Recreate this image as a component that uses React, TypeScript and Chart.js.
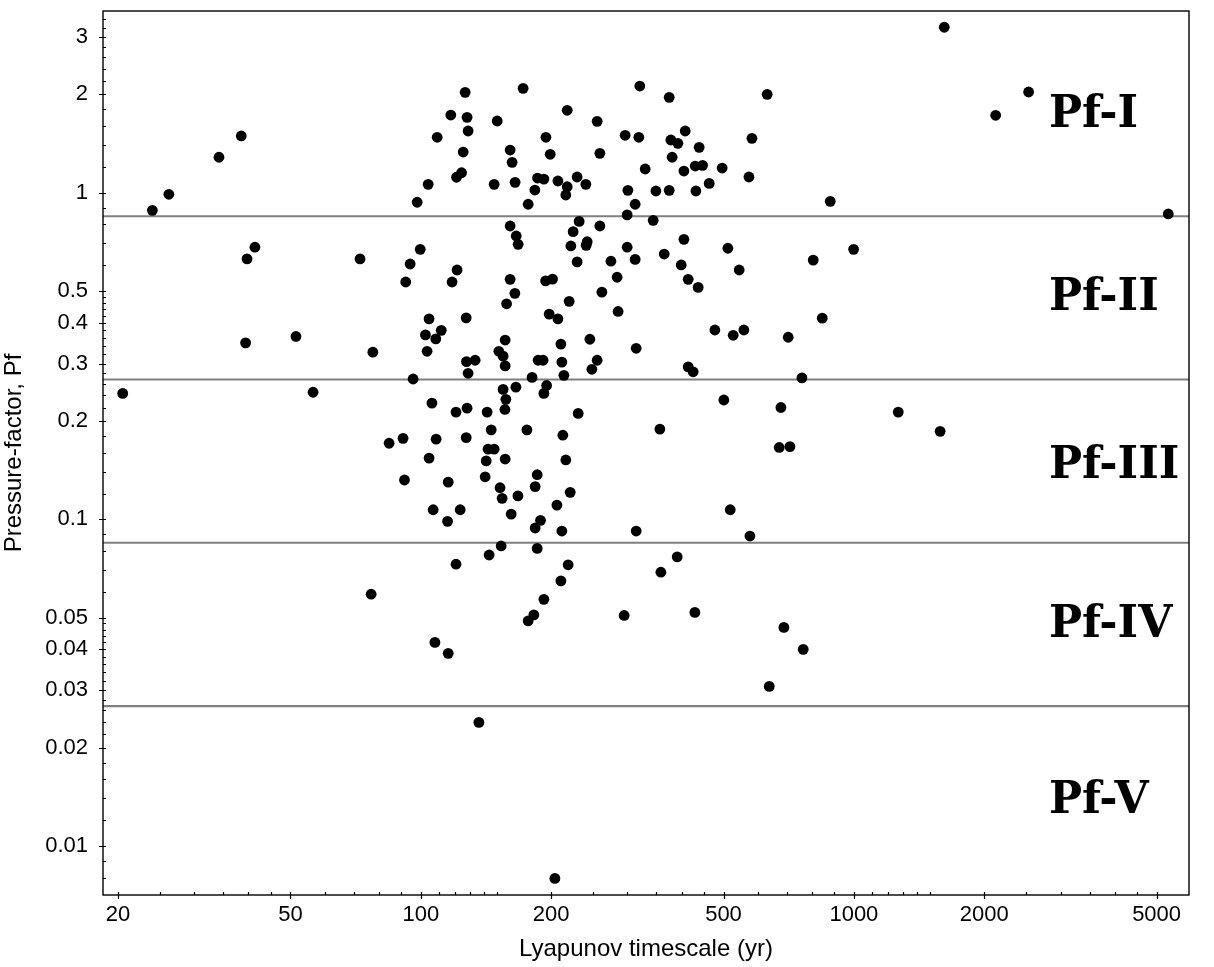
import React, { useEffect, useRef } from 'react';
import { Chart, registerables } from 'chart.js';

Chart.register(...registerables);

// Lyapunov timescale (yr) of each object
const lyapunovYr = [
  20.5, 24.0, 26.2, 34.2, 38.5, 41.4, 39.7, 72.4, 39.4, 51.5, 77.5, 56.4, 84.5, 76.8,
  126.6, 172.3, 117.3, 127.9, 128.6, 150.1, 109.1, 194.5, 125.3, 160.8, 162.5, 199.0, 120.9, 124.2,
  104.0, 147.7, 165.1, 186.0, 192.4, 207.3, 183.4, 98.1, 177.0, 160.8, 166.1, 167.8, 99.7, 94.5,
  121.3, 92.3, 118.1, 160.8, 194.2, 201.5, 164.9, 157.8, 104.5, 127.3, 111.5, 197.9, 207.3,
  102.5, 108.3, 156.6, 103.4, 151.4, 154.9, 127.5, 133.5, 156.6, 186.6, 191.6, 210.6, 211.7, 128.6,
  96.0, 180.7, 154.9, 165.8, 195.2, 192.4, 157.2, 106.1, 120.6, 127.9, 142.3, 156.4, 91.0, 108.5,
  127.3, 145.4, 175.8, 212.8, 143.0, 147.7, 104.5, 141.6, 156.6, 91.7, 115.7, 140.8, 185.7, 183.7,
  152.4, 154.1, 167.6, 106.8, 123.3, 115.3, 161.7, 206.2, 189.0, 183.7, 211.7, 153.3, 143.8, 185.7,
  120.6, 210.6, 192.4, 182.4, 177.0, 107.8, 115.7, 136.2, 204.0,
  320.4, 374.6, 217.8, 255.4, 296.4, 318.7, 407.9, 377.9, 392.3, 439.3, 581.6, 259.1, 380.5, 329.7,
  405.1, 430.1, 447.4, 496.4, 572.4, 229.6, 217.8, 216.2, 240.5, 300.7, 349.0, 374.6, 431.7, 463.4,
  312.6, 299.6, 344.0, 232.1, 224.8, 259.1, 405.1, 222.1, 242.2, 240.9, 299.6, 511.7, 229.6, 274.8,
  312.6, 364.8, 399.3, 543.5, 284.0, 414.4, 437.0, 261.9, 220.1, 285.5, 477.6, 557.2,
  245.7, 314.3, 526.4, 255.4, 248.3, 214.0, 414.4, 425.5, 500.9, 230.9, 356.5, 216.2, 221.3, 518.2,
  314.3, 575.4, 390.9,
  218.9, 358.4, 294.8, 429.4,
  1617, 630.7, 2532, 2125, 881.9, 5320, 998.6, 805.6, 845.2, 705.3, 758.6, 678.5, 1266, 1582,
  672.4, 711.8,
  689.3, 763.9, 637.6,
];

// Pressure-factor Pf of each object (same order)
const pressureFactor = [
  0.243, 0.883, 0.989, 1.284, 1.492, 0.681, 0.627, 0.627, 0.347, 0.363, 0.325, 0.245, 0.171, 0.0590,
  2.029, 2.087, 1.729, 1.701, 1.545, 1.658, 1.478, 1.478, 1.332, 1.351, 1.239, 1.311, 1.115, 1.151,
  1.061, 1.061, 1.076, 1.109, 1.101, 1.086, 1.019, 0.935, 0.922, 0.791, 0.737, 0.695, 0.671, 0.605,
  0.580, 0.533, 0.533, 0.543, 0.537, 0.544, 0.492, 0.457, 0.411, 0.414, 0.379, 0.425, 0.411,
  0.367, 0.357, 0.354, 0.327, 0.327, 0.316, 0.304, 0.307, 0.295, 0.307, 0.307, 0.344, 0.303, 0.280,
  0.269, 0.272, 0.250, 0.254, 0.257, 0.243, 0.233, 0.227, 0.213, 0.219, 0.213, 0.217, 0.177, 0.176,
  0.178, 0.188, 0.188, 0.181, 0.164, 0.164, 0.154, 0.151, 0.153, 0.132, 0.130, 0.135, 0.137, 0.126,
  0.125, 0.116, 0.118, 0.107, 0.107, 0.0986, 0.1038, 0.1106, 0.0993, 0.0941, 0.0921, 0.0829, 0.0778, 0.0815,
  0.0729, 0.0648, 0.0569, 0.0510, 0.0489, 0.0420, 0.0389, 0.0239, 0.00796,
  2.121, 1.959, 1.788, 1.654, 1.499, 1.478, 1.545, 1.450, 1.416, 1.377, 1.467, 1.320, 1.284, 1.182,
  1.165, 1.207, 1.213, 1.190, 1.117, 1.117, 1.043, 0.984, 1.061, 1.017, 1.012, 1.017, 1.012, 1.068,
  0.922, 0.855, 0.823, 0.817, 0.760, 0.791, 0.720, 0.687, 0.708, 0.690, 0.681, 0.676, 0.614, 0.617,
  0.625, 0.649, 0.601, 0.580, 0.551, 0.543, 0.513, 0.496, 0.465, 0.433, 0.380, 0.380,
  0.356, 0.334, 0.366, 0.307, 0.288, 0.276, 0.293, 0.283, 0.232, 0.211, 0.189, 0.152, 0.121, 0.107,
  0.0921, 0.0889, 0.0768,
  0.0726, 0.0689, 0.0508, 0.0519,
  3.21, 2.001, 2.034, 1.726, 0.941, 0.861, 0.671, 0.622, 0.413, 0.361, 0.271, 0.220, 0.213, 0.186,
  0.166, 0.167,
  0.0467, 0.0400, 0.0308,
];

// Class boundaries (horizontal lines)
const pfBoundaries = [0.847, 0.268, 0.0848, 0.0268];

// Class labels
const regionNames = ['Pf-I', 'Pf-II', 'Pf-III', 'Pf-IV', 'Pf-V'];
const regionLabelX = 2820;
const regionLabelY = [1.59, 0.437, 0.134, 0.0436, 0.0126];

// Axes
const xRange = [18.46, 5940];
const yRange = [0.00708, 3.6];
const xMajorTicks = [20, 50, 100, 200, 500, 1000, 2000, 5000];
const xMinorTicks = [25, 30, 35, 40, 45, 60, 70, 80, 90, 110, 120, 130, 140, 150, 250, 300, 350, 400, 450,
  600, 700, 800, 900, 1100, 1200, 1300, 1400, 1500, 2500, 3000, 3500, 4000, 4500];
const yMajorTicks = [0.01, 0.02, 0.03, 0.04, 0.05, 0.1, 0.2, 0.3, 0.4, 0.5, 1, 2, 3];
const yMinorTicks = [0.008, 0.009, 0.012, 0.014, 0.016, 0.018, 0.022, 0.024, 0.026, 0.028, 0.032, 0.034,
  0.036, 0.038, 0.042, 0.044, 0.046, 0.048, 0.06, 0.07, 0.08, 0.09, 0.12, 0.14, 0.16, 0.18, 0.22, 0.24,
  0.26, 0.28, 0.32, 0.34, 0.36, 0.38, 0.42, 0.44, 0.46, 0.48, 0.6, 0.7, 0.8, 0.9, 1.2, 1.4, 1.6, 1.8,
  2.2, 2.4, 2.6, 2.8, 3.2, 3.4];
const xTitle = 'Lyapunov timescale (yr)';
const yTitle = 'Pressure-factor, Pf';

const TICK_FONT = { family: '"Liberation Sans", Arial, sans-serif', size: 22 };
const TITLE_FONT = { family: '"Liberation Sans", Arial, sans-serif', size: 24 };

const frameTicksPlugin = {
  id: 'frameTicks',
  afterDatasetsDraw(chart: any) {
    const { ctx, chartArea: a, scales } = chart;
    const x = scales.x;
    const y = scales.y;
    ctx.save();
    ctx.strokeStyle = '#000';
    ctx.lineWidth = 1.4;
    ctx.strokeRect(a.left, a.top, a.right - a.left, a.bottom - a.top);
    ctx.lineWidth = 1.2;
    ctx.beginPath();
    for (const v of xMajorTicks) {
      const p = Math.round(x.getPixelForValue(v)) + 0.5;
      ctx.moveTo(p, a.bottom + 4);
      ctx.lineTo(p, a.bottom - 3);
    }
    for (const v of xMinorTicks) {
      const p = Math.round(x.getPixelForValue(v)) + 0.5;
      ctx.moveTo(p, a.bottom);
      ctx.lineTo(p, a.bottom - 3);
    }
    for (const v of yMajorTicks) {
      const p = Math.round(y.getPixelForValue(v)) + 0.5;
      ctx.moveTo(a.left - 4, p);
      ctx.lineTo(a.left + 3, p);
    }
    for (const v of yMinorTicks) {
      const p = Math.round(y.getPixelForValue(v)) + 0.5;
      ctx.moveTo(a.left, p);
      ctx.lineTo(a.left + 3, p);
    }
    ctx.stroke();

    ctx.fillStyle = '#000';
    ctx.font = 'bold 44px "DejaVu Serif", serif';
    ctx.textAlign = 'left';
    ctx.textBaseline = 'alphabetic';
    regionNames.forEach((name, i) => {
      ctx.fillText(name, x.getPixelForValue(regionLabelX), y.getPixelForValue(regionLabelY[i]));
    });
    ctx.restore();
  },
};

export default function App() {
  const canvasRef = useRef<HTMLCanvasElement | null>(null);

  useEffect(() => {
    const canvas = canvasRef.current;
    if (!canvas) return;

    const points = lyapunovYr.map((t, i) => ({ x: t, y: pressureFactor[i] }));
    const lineSets = pfBoundaries.map((b) => ({
      data: [{ x: xRange[0], y: b }, { x: xRange[1], y: b }],
      showLine: true,
      borderColor: '#808080',
      borderWidth: 2.2,
      pointRadius: 0,
      pointHoverRadius: 0,
      order: 1,
    }));

    const chart = new Chart(canvas, {
      type: 'scatter',
      data: {
        datasets: [
          {
            data: points,
            backgroundColor: '#000',
            borderWidth: 0,
            pointRadius: 5.4,
            pointHoverRadius: 5.4,
            order: 0,
          } as any,
          ...(lineSets as any[]),
        ],
      },
      options: {
        animation: false,
        responsive: false,
        devicePixelRatio: 1,
        events: [],
        layout: { padding: { left: 0, top: 11, right: 25, bottom: 0 } },
        plugins: {
          legend: { display: false },
          tooltip: { enabled: false },
        },
        scales: {
          x: {
            type: 'logarithmic',
            position: 'bottom',
            min: xRange[0],
            max: xRange[1],
            grid: { display: false, drawTicks: false },
            border: { display: false },
            afterBuildTicks: (scale: any) => {
              scale.ticks = xMajorTicks.map((v) => ({ value: v }));
            },
            afterFit: (scale: any) => {
              scale.height = 72;
              scale.paddingLeft = 0;
              scale.paddingRight = 0;
            },
            ticks: {
              autoSkip: false,
              maxRotation: 0,
              minRotation: 0,
              padding: 7,
              color: '#000',
              font: TICK_FONT,
              callback: (v: any) => String(v),
            },
            title: {
              display: true,
              text: xTitle,
              color: '#000',
              font: TITLE_FONT,
              padding: { top: 0, bottom: 3 },
            },
          },
          y: {
            type: 'logarithmic',
            position: 'left',
            min: yRange[0],
            max: yRange[1],
            grid: { display: false, drawTicks: false },
            border: { display: false },
            afterBuildTicks: (scale: any) => {
              scale.ticks = yMajorTicks.map((v) => ({ value: v }));
            },
            afterFit: (scale: any) => {
              scale.width = 103;
              scale.paddingTop = 0;
              scale.paddingBottom = 0;
            },
            ticks: {
              autoSkip: false,
              padding: 15,
              color: '#000',
              font: TICK_FONT,
              callback: (v: any) => String(v),
            },
            title: {
              display: true,
              text: yTitle,
              color: '#000',
              font: TITLE_FONT,
              padding: { top: 0, bottom: 0 },
            },
          },
        },
      } as any,
      plugins: [frameTicksPlugin],
    });

    return () => chart.destroy();
  }, []);

  return (
    <div style={{ position: 'absolute', left: 0, top: 0, width: 1214, height: 967, background: '#fff' }}>
      <canvas ref={canvasRef} width={1214} height={967} />
    </div>
  );
}
